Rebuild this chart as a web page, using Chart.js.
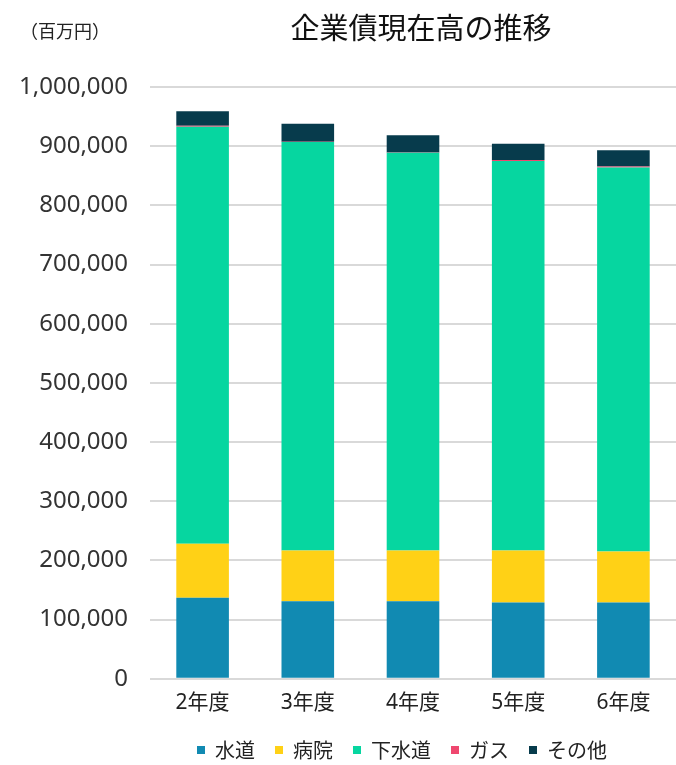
<!DOCTYPE html>
<html>
  <head>
    <title>企業債現在高の推移</title>
    <script src="https://cdn.jsdelivr.net/npm/chart.js"></script>
    <style>
      body { margin: 0; background: #fff; }
      .wrap { width: 676px; height: 765px; }
    </style>
  </head>

  <body>
    <div class="wrap">
      <canvas id="kigyousai"></canvas>
    </div>

    <script>
      // 単位: 百万円
      var nendo = ["2年度", "3年度", "4年度", "5年度", "6年度"];
      var suido = [137000, 131000, 131000, 129000, 129000];
      var byoin = [91000, 86000, 86000, 88000, 86000];
      var gesuido = [705000, 690000, 672000, 658000, 649000];
      var gasu = [1500, 300, 300, 1500, 1500];
      var sonota = [24500, 30500, 29000, 27500, 27500];
      var yTicks = [0, 100000, 200000, 300000, 400000, 500000, 600000, 700000, 800000, 900000, 1000000];

      var fontName = "'Noto Sans', 'Noto Sans CJK JP', sans-serif";
      var jpFont = "'Noto Sans CJK JP', sans-serif";

      // タイトルと左上の単位表示、凡例の位置合わせ
      var headText = {
        id: "headText",
        afterLayout(chart) {
          chart.legend.left += 64;
          chart.legend.right += 64;
        },
        afterDraw(chart) {
          var ctx = chart.ctx;
          ctx.save();
          ctx.textBaseline = "middle";
          ctx.fillStyle = "#222";
          ctx.font = "18px " + jpFont;
          ctx.textAlign = "left";
          ctx.fillText("（百万円）", 20, 31);
          ctx.fillStyle = "#111";
          ctx.font = "29px " + jpFont;
          ctx.textAlign = "center";
          ctx.fillText("企業債現在高の推移", 421, 28);
          ctx.restore();
        },
      };

      var grafico = new Chart(document.getElementById("kigyousai").getContext("2d"), {
        type: "bar",
        data: {
          labels: nendo,
          datasets: [
            { label: "水道", data: suido, backgroundColor: "#118AB2" },
            { label: "病院", data: byoin, backgroundColor: "#FFD116" },
            { label: "下水道", data: gesuido, backgroundColor: "#06D6A0" },
            { label: "ガス", data: gasu, backgroundColor: "#EF476F" },
            { label: "その他", data: sonota, backgroundColor: "#073B4C" },
          ],
        },
        options: {
          responsive: true,
          maintainAspectRatio: false,
          animation: false,
          layout: { padding: { left: 0, right: 0, top: 87, bottom: -5 } },
          datasets: { bar: { barPercentage: 0.5, categoryPercentage: 1 } },
          scales: {
            x: {
              stacked: true,
              grid: { display: false },
              border: { display: false },
              ticks: { color: "#222", font: { family: fontName, size: 21 }, padding: 4 },
            },
            y: {
              stacked: true,
              min: 0,
              max: 1000000,
              afterBuildTicks: (axis) => {
                axis.ticks = yTicks.map((v) => ({ value: v }));
              },
              afterFit: (axis) => {
                axis.width = 150;
              },
              grid: { color: "#d9d9d9", lineWidth: 2, drawTicks: false },
              border: { display: false },
              ticks: {
                color: "#333",
                padding: 22,
                font: { family: fontName, size: 24 },
                callback: (v) => v.toLocaleString("en-US"),
              },
            },
          },
          plugins: {
            title: { display: false },
            legend: {
              position: "bottom",
              labels: {
                color: "#222",
                boxWidth: 8,
                boxHeight: 8,
                padding: 20,
                font: { family: jpFont, size: 20 },
              },
            },
            tooltip: { enabled: false },
          },
        },
        plugins: [headText],
      });
    </script>
  </body>
</html>
